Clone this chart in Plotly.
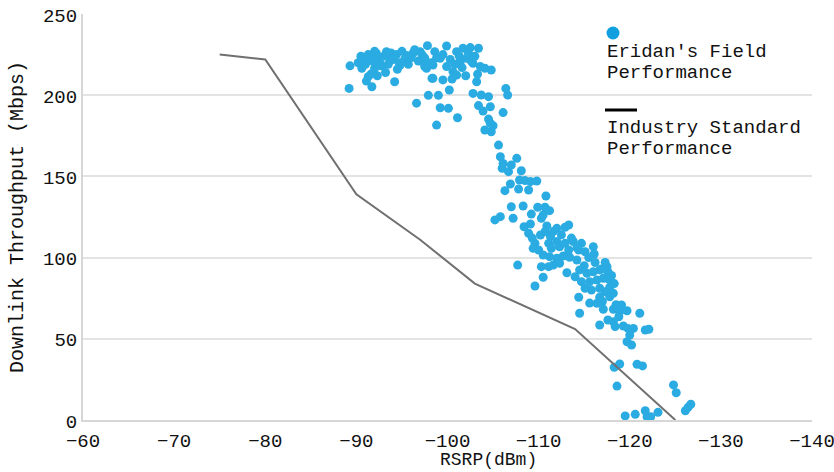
import plotly.graph_objects as go

# Industry standard curve
std_rsrp = [-75, -80, -90, -97, -103, -114, -125]
std_tput = [225, 222, 139, 111, 84, 56, 0]

# Eridan field measurements (RSRP dBm, throughput Mbps)
field_rsrp = [
    -89.3, -89.2, -90.8, -90.6, -91.3, -91.1, -91.7, -91.5, -92.2, -92.0, -92.6, -93.3, -93.7,
    -94.2, -94.8, -95.5, -96.2, -97.0, -97.8, -97.5, -98.3, -97.9, -96.6, -98.6, -98.8, -99.0,
    -99.9, -101.0, -101.7, -102.5, -103.4, -97.3, -97.7, -98.4, -99.2, -99.9, -100.6, -101.4,
    -102.1, -102.8, -103.6, -104.1, -104.8, -98.4, -99.5, -101.0, -103.2, -100.2, -102.8, -103.7,
    -104.5, -106.4, -106.6, -99.2, -100.1, -103.4, -104.7, -103.9, -101.1, -106.1, -104.5, -105.0,
    -104.8, -104.1, -104.7,
    -90.2, -90.5, -91.0, -91.3, -91.8, -92.0, -92.4, -92.8, -93.0, -93.5, -93.8, -94.0, -94.4,
    -94.7, -95.0, -95.3, -95.7, -96.0, -96.4, -96.8, -97.2, -97.5, -94.5, -93.2, -92.3, -91.6,
    -100.3, -100.8, -101.3, -101.6, -102.3, -102.6, -103.0, -103.3, -102.0, -100.5, -99.5, -98.8,
    -98.2,
    -105.6, -105.8, -106.1, -106.0, -106.7, -107.0, -107.6, -108.1, -107.9, -108.5, -109.1, -109.8,
    -106.9, -106.3, -107.8, -108.9, -110.8, -107.0, -108.3, -109.2, -109.9, -110.7, -111.2, -105.8,
    -105.2, -107.2, -110.3, -110.5,
    -109.1, -108.4, -110.9, -111.6, -112.0, -112.9, -113.3, -110.2, -109.6, -109.4, -110.0, -111.1,
    -111.4, -112.0, -112.3, -112.9, -113.3, -113.8, -114.4, -114.7, -115.1, -116.0, -116.1, -110.5,
    -111.2, -112.0, -112.7, -113.4, -114.2, -112.3, -111.6, -110.3, -111.1, -113.1, -114.0, -114.5,
    -115.3, -116.0, -116.7, -117.5, -117.6, -114.7, -115.6, -116.4, -117.1, -117.7, -115.1, -115.8,
    -116.7, -117.3, -117.8, -114.4, -116.7, -117.8, -109.6, -110.5, -107.7,
    -108.9, -109.3, -110.7, -111.3, -112.5, -113.6, -114.2, -115.5, -116.2, -115.0, -116.9, -117.3,
    -118.0, -118.3, -118.2, -117.0, -115.6, -118.5,
    -116.4, -114.5, -117.1, -118.2, -119.1, -118.9, -119.7, -121.1, -117.6, -118.2, -118.8, -118.4,
    -119.3, -119.8, -120.4, -116.7, -121.7, -122.1, -120.0, -119.7, -120.2, -118.9, -118.3, -120.8,
    -121.4, -118.6, -124.8, -125.1, -119.5, -120.6, -121.7, -121.9, -122.3, -123.1, -126.1, -126.4,
    -126.7,
]
field_tput = [
    218.1, 204.2, 222.3, 216.6, 211.4, 208.7, 205.2, 223.1, 225.7, 216.6, 219.6, 226.8, 221.7,
    208.3, 218.6, 224.4, 225.7, 226.8, 230.5, 217.6, 210.4, 199.9, 195.1, 226.8, 181.6, 199.9,
    230.3, 226.8, 228.9, 229.3, 228.9, 220.6, 216.6, 218.6, 222.7, 217.6, 214.5, 220.6,
    222.7, 219.6, 217.6, 216.6, 215.5, 210.4, 209.4, 212.4, 208.3, 203.2, 201.1, 200.1,
    199.1, 204.2, 200.1, 192.3, 191.9, 193.6, 192.9, 190.3, 186.1, 189.3, 185.3, 181.2,
    177.5, 178.6, 182.7,
    220.0, 224.0, 219.0, 225.0, 221.0, 227.0, 223.0, 218.0, 224.0, 219.0, 226.0, 222.0, 225.0,
    220.0, 227.0, 222.0, 219.0, 223.0, 228.0, 221.0, 225.0, 223.0, 216.0, 214.0, 212.0, 213.0,
    222.0, 219.0, 224.0, 217.0, 226.0, 221.0, 224.0, 213.0, 212.0, 210.0, 225.0, 223.0,
    220.0,
    169.3, 162.1, 158.0, 155.0, 152.9, 157.0, 161.1, 153.5, 147.8, 147.4, 146.8, 147.2,
    145.3, 141.2, 142.2, 141.6, 137.9, 131.3, 131.8, 126.8, 131.0, 131.0, 128.9, 125.2,
    123.2, 124.2, 124.2, 126.2,
    120.7, 119.0, 119.5, 116.0, 118.0, 118.7, 120.1, 113.9, 108.8, 105.7, 104.7, 108.8,
    105.7, 109.9, 106.7, 108.8, 104.7, 109.9, 104.7, 108.8, 103.6, 106.7, 102.2, 101.6,
    100.6, 99.6, 101.0, 100.2, 98.5, 96.5, 95.4, 94.4, 94.4, 90.7, 88.2, 92.4,
    90.3, 91.3, 92.4, 94.4, 91.3, 85.2, 85.2, 86.2, 87.3, 86.6, 81.1, 80.0,
    81.1, 79.0, 81.7, 75.6, 75.6, 75.9, 82.5, 87.9, 95.4,
    115.0, 112.0, 116.0, 113.0, 114.0, 112.0, 106.0, 100.0, 97.0, 95.0, 93.0, 97.0,
    89.0, 84.0, 78.0, 73.0, 72.0, 71.0,
    71.9, 65.7, 68.2, 68.2, 70.8, 66.7, 67.3, 65.7, 61.6, 60.5, 63.6, 57.5,
    57.9, 56.4, 56.4, 58.5, 55.4, 55.9, 52.3, 48.2, 46.2, 34.5, 32.5, 34.3,
    33.3, 20.9, 21.6, 16.8, 2.5, 3.5, 5.7, 2.0, 2.0, 4.7, 5.7, 7.8,
    9.7,
]

x_ticks = [-60, -70, -80, -90, -100, -110, -120, -130, -140]
y_ticks = [0, 50, 100, 150, 200, 250]

legend_field = ["Eridan's Field", "Performance"]
legend_std = ["Industry Standard", "Performance"]

FONT = "Liberation Mono, DejaVu Sans Mono, monospace"
BLUE = "#2AABE2"

fig = go.Figure()
fig.add_trace(go.Scatter(
    x=field_rsrp, y=field_tput, mode="markers",
    marker=dict(color=BLUE, size=9, line=dict(width=0)),
    name="Eridan's Field Performance", showlegend=False,
))
fig.add_trace(go.Scatter(
    x=std_rsrp, y=std_tput, mode="lines",
    line=dict(color="#707070", width=2),
    name="Industry Standard Performance", showlegend=False,
))

# plot area in pixels: x 83..812, y 14..420
L, R, T, B = 83, 812, 14, 420
W, H = R - L, B - T


def px(xp):
    return (xp - L) / W


def py(yp):
    return (B - yp) / H


annotations = []
for txt, yc in zip(legend_field, [52, 73]):
    annotations.append(dict(text=txt, x=px(605), y=py(yc), xref="paper", yref="paper",
                            xanchor="left", yanchor="middle", showarrow=False,
                            font=dict(family=FONT, size=19, color="#111111")))
for txt, yc in zip(legend_std, [128, 149]):
    annotations.append(dict(text=txt, x=px(605), y=py(yc), xref="paper", yref="paper",
                            xanchor="left", yanchor="middle", showarrow=False,
                            font=dict(family=FONT, size=19, color="#111111")))
annotations.append(dict(text="RSRP(dBm)", x=px(488), y=py(460), xref="paper", yref="paper",
                        xanchor="center", yanchor="middle", showarrow=False,
                        font=dict(family=FONT, size=18, color="#111111")))

shapes = [
    dict(type="circle", xref="paper", yref="paper",
         x0=px(606.5), x1=px(619.5), y0=py(39.5), y1=py(26.5),
         fillcolor="#129FDF", line=dict(width=0)),
    dict(type="line", xref="paper", yref="paper",
         x0=px(605), x1=px(637), y0=py(110), y1=py(110),
         line=dict(color="#000000", width=3)),
]

fig.update_layout(
    width=834, height=472,
    margin=dict(l=L, r=834 - R, t=T, b=472 - B, autoexpand=False),
    paper_bgcolor="white", plot_bgcolor="white",
    font=dict(family=FONT, size=19, color="#111111"),
    annotations=annotations, shapes=shapes,
    showlegend=False,
)
fig.update_xaxes(
    range=[-60, -140], tickvals=x_ticks, ticks="", showgrid=False, automargin=False,
    showline=True, linecolor="#d6d6d6", linewidth=2, zeroline=False, ticklabelstandoff=2,
    ticklabeloverflow="allow",
    tickfont=dict(family=FONT, size=19, color="#111111"),
)
fig.update_yaxes(
    range=[0, 250], tickvals=y_ticks, ticks="", showgrid=True, gridcolor="#e3e3e3", gridwidth=2,
    showline=True, linecolor="#d6d6d6", linewidth=2, zeroline=False, automargin=False,
    ticklabeloverflow="allow", ticklabelshift=1,
    tickfont=dict(family=FONT, size=19, color="#111111"),
    title=dict(text="Downlink Throughput (Mbps)", font=dict(family=FONT, size=20, color="#111111"),
               standoff=14),
)

fig.write_html(
    "out.html",
    config={"displayModeBar": False},
    post_script="document.body.style.margin='0';document.body.style.overflow='hidden';",
)
